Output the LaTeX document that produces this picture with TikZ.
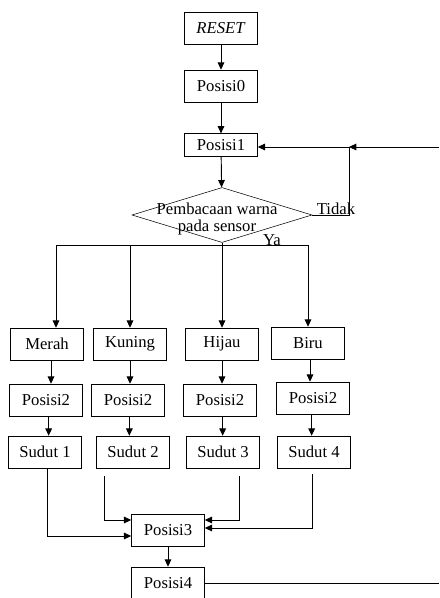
\documentclass[tikz,border=0pt]{standalone}
\usepackage{fontspec}
\setmainfont{Liberation Serif}
\usetikzlibrary{shapes.geometric}
\usetikzlibrary{arrows.meta}

\begin{document}
\begin{tikzpicture}[
x = 0.75pt, y = -0.75pt,
every node/.style = {font = \fontsize{12.5}{14}\selectfont},
  kotak/.style = {draw, rectangle, minimum width = 54.75pt, minimum height = 24pt, inner sep = 1pt},
  panah/.style = {-{Triangle[length = 5.5pt, width = 5pt]}, line width = 0.7pt},
  garis/.style = {line width = 0.7pt}
]
\useasboundingbox (0,0) rectangle (439,598);

% alur atas
\node[kotak] (reset) at (221,28) {\textit{RESET}};
\node[kotak] (pos0) at (221,86) {Posisi0};
\node[kotak, minimum height = 17pt] (pos1) at (221,145) {Posisi1};
\node[draw, diamond, minimum width = 135pt, minimum height = 41.25pt, inner sep = 0pt] (cek) at (222,215) {};
\node[align = center, inner sep = 0pt] (teks) at (217,219) {Pembacaan warna\\[-1pt]pada sensor};
\node[inner sep = 0pt] (tidak) at (336,209) {Tidak};
\node[inner sep = 0pt] (ya) at (272,240) {Ya};

% warna
\node[kotak] (merah) at (47,344) {Merah};
\node[kotak] (kuning) at (130,344) {Kuning};
\node[kotak] (hijau) at (222,344) {Hijau};
\node[kotak] (biru) at (308,343) {Biru};

\node[kotak] (m2) at (46,400) {Posisi2};
\node[kotak] (k2) at (128,400) {Posisi2};
\node[kotak] (h2) at (220,400) {Posisi2};
\node[kotak] (b2) at (313,398) {Posisi2};

\node[kotak] (s1) at (45,452) {Sudut 1};
\node[kotak] (s2) at (133,452) {Sudut 2};
\node[kotak] (s3) at (223,452) {Sudut 3};
\node[kotak] (s4) at (314,452) {Sudut 4};

% alur bawah
\node[kotak] (pos3) at (168,530) {Posisi3};
\node[kotak] (pos4) at (168,583) {Posisi4};

\coordinate (simpul) at (349,147);
\coordinate (masuk) at (439,147);
\coordinate (keluar) at (439,583);
\coordinate (cab1) at (56,245);
\coordinate (cab2) at (130,245);
\coordinate (cab3) at (222,245);
\coordinate (cab4) at (308,245);

\draw[panah] (reset) -- (pos0);
\draw[panah] (pos0) -- (pos1);
\draw[panah] (pos1) -- (cek);
\draw[panah] (cek.east) -| (simpul) -- ([yshift = -1.5pt]pos1.east);
\draw[panah] (masuk) -- (simpul);

\draw[garis] (cek.south) -- (cab3);
\draw[garis] (cab1) -- (cab4);
\draw[panah] (cab1) -- (cab1 |- merah.north);
\draw[panah] (cab2) -- (cab2 |- kuning.north);
\draw[panah] (cab3) -- (cab3 |- hijau.north);
\draw[panah] (cab4) -- (cab4 |- biru.north);

\draw[panah] ([xshift = 3pt]merah.south) -- ([xshift = 3pt]merah.south |- m2.north);
\draw[panah] (kuning.south) -- (kuning.south |- k2.north);
\draw[panah] (hijau.south) -- (hijau.south |- h2.north);
\draw[panah] ([xshift = 1.5pt]biru.south) -- ([xshift = 1.5pt]biru.south |- b2.north);

\draw[panah] ([xshift = 2pt]m2.south) -- ([xshift = 2pt]m2.south |- s1.north);
\draw[panah] ([xshift = 1pt]k2.south) -- ([xshift = 1pt]k2.south |- s2.north);
\draw[panah] ([xshift = 2pt]h2.south) -- ([xshift = 2pt]h2.south |- s3.north);
\draw[panah] ([xshift = -1pt]b2.south) -- ([xshift = -1pt]b2.south |- s4.north);

\draw[panah] ([xshift = 2pt]s1.south) |- ([yshift = -4.5pt]pos3.west);
\draw[panah] ([xshift = -21.75pt, yshift = -6pt]s2.south) |- ([yshift = 7.5pt]pos3.west);
\draw[panah] ([xshift = 12pt, yshift = -6pt]s3.south) |- ([yshift = 7.5pt]pos3.east);
\draw[panah] ([xshift = -1.5pt, yshift = -4.5pt]s4.south) |- ([yshift = 1.5pt]pos3.east);

\draw[panah] (pos3) -- (pos4);
\draw[garis] (pos4.east) -- (pos4.east -| keluar);
\end{tikzpicture}
\end{document}
